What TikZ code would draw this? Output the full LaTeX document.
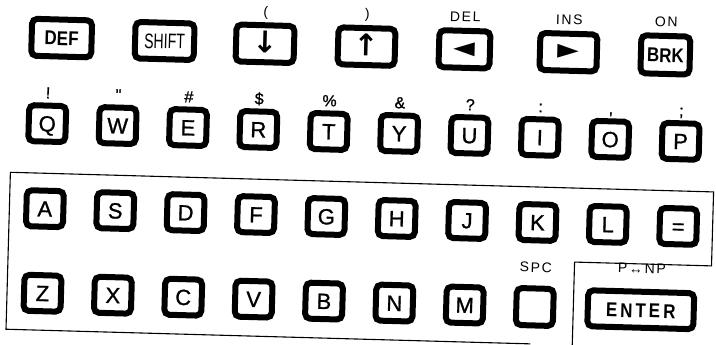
\documentclass[tikz,border=0pt]{standalone}
\usepackage{fontspec}
\setmainfont{Liberation Sans}
\newfontfamily\letterfont{Liberation Sans}[FakeBold=1]
\newfontfamily\condfont{Liberation Sans}[FakeStretch=0.85]
\newfontfamily\shiftfont{Liberation Sans}[FakeStretch=0.67]
\newfontfamily\enterfont{Liberation Sans}[FakeStretch=0.85, LetterSpace=15]
\newfontfamily\spacedfont{Liberation Sans}[LetterSpace=12]
\newfontfamily\symfont{DejaVu Sans}
\usetikzlibrary{positioning}

\begin{document}
\begin{tikzpicture}[x=1pt, y=-1pt,
    key/.style={draw, line width=6pt, rounded corners=5pt,
      minimum width=37pt, minimum height=36pt, inner sep=0pt,
      font={\letterfont\fontsize{22}{22}\selectfont}, text height=15.7pt, text depth=0pt},
    fnkey/.style={key, minimum height=37pt,
      font={\condfont\bfseries\fontsize{20}{20}\selectfont}, text height=14.6pt},
    arrowkey/.style={key, minimum width=57pt, minimum height=37pt,
      font={\symfont\bfseries\fontsize{30}{30}\selectfont}, text height=19pt},
    ptrkey/.style={arrowkey, font={\symfont\fontsize{28}{28}\selectfont}, text height=14pt},
    shiftlbl/.style={inner sep=0pt, text depth=0pt, font={\letterfont\fontsize{16}{16}\selectfont}},
    parenlbl/.style={shiftlbl, font=\fontsize{14}{14}\selectfont},
    toplbl/.style={inner sep=0pt, text depth=0pt, font={\spacedfont\fontsize{14}{14}\selectfont}},
    frame/.style={line width=1.1pt}]
  \useasboundingbox (0,0) rectangle (716,345);

  \begin{scope}[rotate around={-1.6:(358,172.5)}, transform shape]
    % function keys
    \node[fnkey, minimum width=60pt] (def) at (58,46.4) {DEF};
    \node[key, minimum width=59pt, minimum height=36.5pt, text height=15.3pt,
      font={\shiftfont\fontsize{21}{21}\selectfont}] (shift) at (161,46.4) {SHIFT};
    \node[arrowkey, minimum width=58pt] (down) at (261.5,46.4) {↓};
    \node[arrowkey] (up) at (363,46.4) {↑};
    \node[ptrkey, minimum width=51pt] (del) at (461,46.4) {◄};
    \node[ptrkey] (ins) at (565,46.4) {►};
    \node[fnkey, minimum width=49pt, minimum height=38pt] (brk) at (662,46.4) {BRK};

    \node[parenlbl, above=6pt of down] (down-sh) {(};
    \node[parenlbl, above=6pt of up] (up-sh) {)};
    \node[toplbl, above=6pt of del] (del-sh) {DEL};
    \node[toplbl, above=6pt of ins] (ins-sh) {INS};
    \node[toplbl, above=6pt of brk] (brk-sh) {ON};

    % letter rows
    \foreach \k/\s [count=\i from 0] in {Q/!, W/", E/\#, R/\$, T/\%, Y/\&, U/?, I/:, O/{,}, P/;}{
      \node[key] (\k) at (46+70.4*\i,132.3) {\k};
      \node[shiftlbl, above=4pt of \k] (\k-sh) {\s};
    }
    \foreach \k/\n [count=\i from 0] in {A/A, S/S, D/D, F/F, G/G, H/H, J/J, K/K, L/L, =/eq}
      \node[key] (\n) at (46+70.4*\i,217.4) {\k};
    \foreach \k [count=\i from 0] in {Z, X, C, V, B, N, M}
      \node[key] (\k) at (46+70.4*\i,302) {\k};

    \node[key, minimum height=37pt] (spc) at (538.5,302) {};
    \node[toplbl, above=13pt of spc] (spc-sh) {SPC};
    \node[key, minimum width=106pt,
      font={\enterfont\bfseries\fontsize{20}{20}\selectfont}] (enter) at (644.5,301.8) {ENTER};
    \node[toplbl, above=15pt of enter] (enter-sh) {P↔NP};

    % panel outline
    \draw[frame] (535,339) -- (10.5,339) -- (10.5,182) -- (714,182)
      -- (714,256) -- (577,256) -- (577,360);
  \end{scope}
\end{tikzpicture}
\end{document}
